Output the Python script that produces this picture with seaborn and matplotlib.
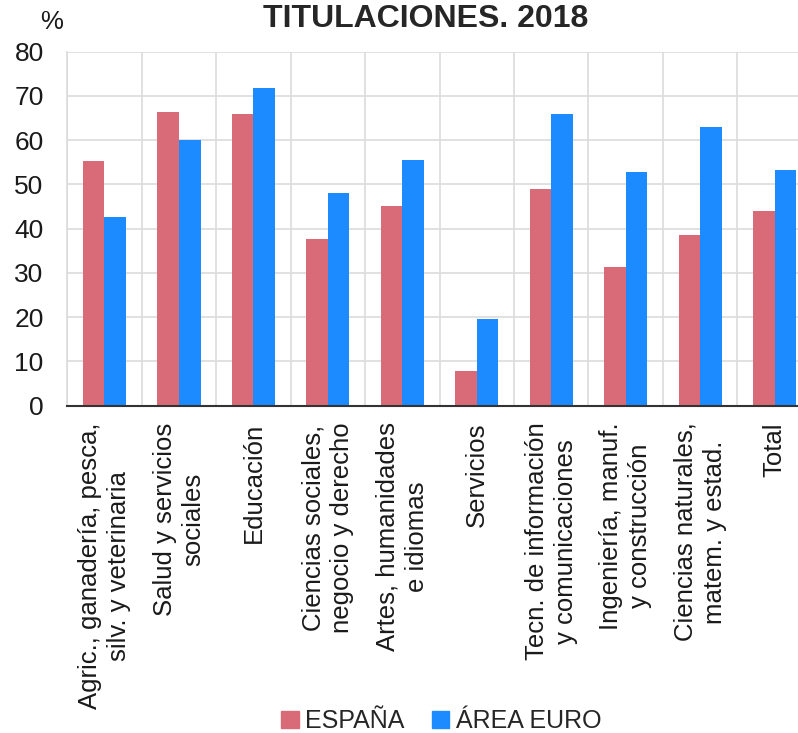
import pandas as pd
import matplotlib
matplotlib.use("Agg")
import matplotlib.pyplot as plt
import seaborn as sb

# datos (porcentaje de titulaciones, 2018)
categorias = [
    "Agric., ganadería, pesca,\nsilv. y veterinaria",
    "Salud y servicios\nsociales",
    "Educación",
    "Ciencias sociales,\nnegocio y derecho",
    "Artes, humanidades\ne idiomas",
    "Servicios",
    "Tecn. de información\ny comunicaciones",
    "Ingeniería, manuf.\ny construcción",
    "Ciencias naturales,\nmatem. y estad.",
    "Total",
]
espana = [55.4, 66.4, 66.0, 37.7, 45.1, 7.8, 48.9, 31.4, 38.6, 44.0]
area_euro = [42.6, 60.0, 71.7, 48.0, 55.5, 19.7, 66.0, 52.8, 63.0, 53.3]
series = ["ESPAÑA", "ÁREA EURO"]
colores = ["#d96b78", "#1b8bff"]
yticks = [0, 10, 20, 30, 40, 50, 60, 70, 80]

# tabla larga para seaborn
df = pd.DataFrame({
    "categoria": categorias * 2,
    "valor": espana + area_euro,
    "serie": [series[0]] * len(categorias) + [series[1]] * len(categorias),
})

sb.set_style("white")
plt.rcParams["font.family"] = ["Liberation Sans", "DejaVu Sans"]

fig = plt.figure(figsize=(7.98, 7.33), dpi=100)
ax = fig.add_axes([0.0843, 0.4465, 0.933, 0.483])

sb.barplot(data=df, x="categoria", y="valor", hue="serie", palette=colores,
           width=0.58, saturation=1, ax=ax, legend=False, zorder=3, linewidth=0)

ax.set_ylim(0, 80)
ax.set_xlim(-0.5, len(categorias) - 0.5)
ax.set_yticks(yticks)
ax.set_yticklabels([str(v) for v in yticks], fontsize=19, color="#1a1a1a")
ax.set_xticks(range(len(categorias)))
ax.set_xticklabels(categorias, rotation=90, fontsize=18.5, color="#1a1a1a",
                   va="top", ha="center", multialignment="center", linespacing=1.25)
ax.set_xlabel("")
ax.set_ylabel("")
ax.tick_params(axis="both", length=0)
ax.tick_params(axis="y", pad=17)
ax.tick_params(axis="x", pad=12)

# rejilla: horizontales en los ticks y verticales entre categorias
ax.set_xticks([i + 0.5 for i in range(-1, len(categorias))], minor=True)
ax.tick_params(axis="x", which="minor", length=0)
ax.grid(axis="y", color="#dcdcdc", linewidth=1.2, zorder=0)
ax.grid(axis="x", which="minor", color="#dcdcdc", linewidth=1.2, zorder=0)
ax.grid(axis="x", which="major", visible=False)
for lado in ["top", "right"]:
    ax.spines[lado].set_visible(False)
ax.spines["left"].set_color("#dcdcdc")
ax.spines["left"].set_linewidth(1.2)
ax.spines["bottom"].set_color("#333333")
ax.spines["bottom"].set_linewidth(1.5)
ax.spines["bottom"].set_zorder(4)

fig.text(0.533, 0.974, "TITULACIONES. 2018", fontsize=23, fontweight="bold",
         ha="center", va="center")
fig.text(0.065, 0.97, "%", fontsize=18.5, ha="center", va="center", color="#1a1a1a")

# leyenda inferior
handles = [plt.Rectangle((0, 0), 1, 1, color=c) for c in colores]
fig.legend(handles, series, loc="center", bbox_to_anchor=(0.553, 0.016), ncol=2,
           frameon=False, fontsize=18, handlelength=0.7, handleheight=0.7,
           handletextpad=0.25, columnspacing=1.1, borderaxespad=0, borderpad=0)

plt.savefig("out.png", dpi=100)
